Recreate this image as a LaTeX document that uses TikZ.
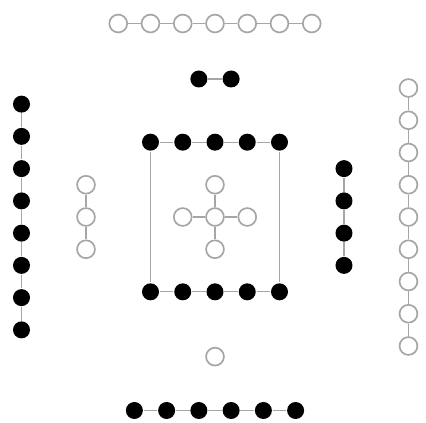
\documentclass[tikz,border=0pt]{standalone}
\usetikzlibrary{positioning}
\tikzset{
  dotbase/.style={circle, inner sep=0pt, line width=1.2pt},
  fulldot/.style={dotbase, fill=black, minimum size=12pt},
  opendot/.style={dotbase, draw=gray!70, fill=white, minimum size=12.6pt},
  bond/.style={gray!70, line width=0.9pt},
}
\begin{document}
\begin{tikzpicture}[x=0.8cm,y=0.8cm]
  \useasboundingbox (-6.667,-6.388) rectangle (6.543,6.729);
  % top chain
  \foreach \i in {0,...,6} \node[opendot] (top\i) at (\i-3,6) {};
  \foreach \i [remember=\i as \j (initially 0)] in {1,...,6} \draw[bond] (top\j) -- (top\i);
  % pair
  \node[fulldot] (pairA) at (-0.5,4.28) {};
  \node[fulldot] (pairB) at (0.5,4.28) {};
  \draw[bond] (pairA) -- (pairB);
  % left columns
  \foreach \i in {0,...,7} \node[fulldot] (lft\i) at (-6,3.5-\i) {};
  \foreach \i [remember=\i as \j (initially 0)] in {1,...,7} \draw[bond] (lft\j) -- (lft\i);
  \foreach \i in {0,1,2} \node[opendot] (lmid\i) at (-4,1-\i) {};
  \draw[bond] (lmid0) -- (lmid1) -- (lmid2);
  % square
  \foreach \i in {0,...,4} {
    \node[fulldot] (sqT\i) at (\i-2,2.32) {};
    \node[fulldot] (sqB\i) at (\i-2,-2.32) {};
  }
  \foreach \i [remember=\i as \j (initially 0)] in {1,...,4} {
    \draw[bond] (sqT\j) -- (sqT\i);
    \draw[bond] (sqB\j) -- (sqB\i);
  }
  \draw[bond] (sqT0) -- (sqB0);
  \draw[bond] (sqT4) -- (sqB4);
  % cross
  \node[opendot] (crC) at (0,0) {};
  \node[opendot] (crN) at (0,1) {};
  \node[opendot] (crS) at (0,-1) {};
  \node[opendot] (crW) at (-1,0) {};
  \node[opendot] (crE) at (1,0) {};
  \foreach \k in {N,S,W,E} \draw[bond] (crC) -- (cr\k);
  % right columns
  \foreach \i in {0,...,3} \node[fulldot] (rmid\i) at (4,1.5-\i) {};
  \foreach \i [remember=\i as \j (initially 0)] in {1,...,3} \draw[bond] (rmid\j) -- (rmid\i);
  \foreach \i in {0,...,8} \node[opendot] (rgt\i) at (6,4-\i) {};
  \foreach \i [remember=\i as \j (initially 0)] in {1,...,8} \draw[bond] (rgt\j) -- (rgt\i);
  % bottom
  \node[opendot] (single) at (0,-4.33) {};
  \foreach \i in {0,...,5} \node[fulldot] (bot\i) at (\i-2.5,-6) {};
  \foreach \i [remember=\i as \j (initially 0)] in {1,...,5} \draw[bond] (bot\j) -- (bot\i);
\end{tikzpicture}
\end{document}
